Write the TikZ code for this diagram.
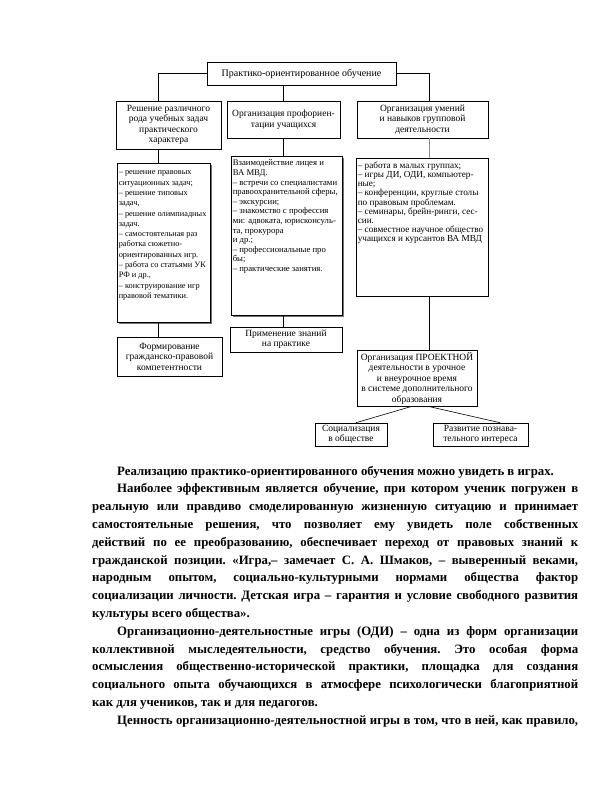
\documentclass[tikz,border=0pt]{standalone}
\usepackage{fontspec}
\setmainfont{Liberation Serif}
\usepackage{tikz}
\usetikzlibrary{shadows}

\begin{document}
\begin{tikzpicture}[x=1pt, y=-1pt,
    box/.style={draw, fill=white, line width=0.6pt, inner sep=1pt, align=center,
        font=\fontsize{9.5}{10.5}\selectfont},
    listbox/.style={draw, fill=white, line width=0.6pt, inner sep=1.5pt, anchor=north west},
    boxshadow/.style={drop shadow={shadow xshift=1.2pt, shadow yshift=-1.2pt, fill=black!55, opacity=1}},
    link/.style={line width=0.6pt}]
    \useasboundingbox (0,0) rectangle (612,792);
    \fill[white] (0,0) rectangle (612,792);
    % Top of the scheme
    \node[box, boxshadow, minimum width=189pt, minimum height=23pt,
        font=\fontsize{10}{11}\selectfont] (top) at (301.5,73.5)
        {Практико-ориентированное обучение};
    % Three directions
    \node[box, minimum width=105pt, minimum height=48pt] (solve) at (168.5,125)
        {Решение различного\\рода учебных задач\\практического\\характера};
    \node[box, minimum width=113pt, minimum height=37pt] (prof) at (283.5,119.5)
        {Организация профориен-\\тации учащихся};
    \node[box, minimum width=131pt, minimum height=37pt] (skill) at (422.5,119.5)
        {Организация умений\\и навыков групповой\\деятельности};
    % Lists of forms of work
    \node[listbox, boxshadow] (solvelist) at (117,163)
        {\parbox[t][156pt][t]{90pt}{\raggedright\fontsize{8.3}{10.3}\selectfont
        \rule{0pt}{10pt}– решение правовых\\ситуационных задач;\\– решение типовых\\задач,\\
        – решение олимпиадных\\задач.\\– самостоятельная раз\\работка сюжетно-\\
        ориентированных игр.\\– работа со статьями УК\\РФ и др.,\\
        – конструирование игр\\правовой тематики.}};
    \node[listbox, boxshadow] (proflist) at (231,156)
        {\parbox[t][156pt][t]{108pt}{\raggedright\fontsize{8.7}{9.6}\selectfont
        \rule{0pt}{8pt}Взаимодействие лицея и\\ВА МВД.\\– встречи со специалистами\\
        правоохранительной сферы,\\– экскурсии;\\– знакомство с профессия\\
        ми: адвоката, юрисконсуль-\\та, прокурора\\и др.;\\
        – профессиональные про\\бы;\\– практические занятия.}};
    \node[listbox] (skilllist) at (356,158)
        {\parbox[t][135pt][t]{129pt}{\raggedright\fontsize{9.2}{9.2}\selectfont
        \rule{0pt}{8.5pt}– работа в малых группах;\\– игры ДИ, ОДИ, компьютер-\\ные;\\
        – конференции, круглые столы\\по правовым проблемам.\\
        – семинары, брейн-ринги, сес-\\сии.\\– совместное научное общество\\
        учащихся и курсантов ВА МВД}};
    % Results
    \node[box, boxshadow, minimum width=105pt, minimum height=39pt] (civic) at (169.5,356.5)
        {Формирование\\гражданско-правовой\\компетентности};
    \node[box, boxshadow, minimum width=112pt, minimum height=25pt] (apply) at (286,339.5)
        {Применение знаний\\на практике};
    \node[box, boxshadow, minimum width=120pt, minimum height=56pt] (project) at (417,378)
        {Организация ПРОЕКТНОЙ\\деятельности в урочное\\и внеурочное время\\
        в системе дополнительного\\образования};
    \node[box, minimum width=72pt, minimum height=23pt] (social) at (351,434.5)
        {Социализация\\в обществе};
    \node[box, minimum width=95pt, minimum height=23pt] (interest) at (480.5,434.5)
        {Развитие познава-\\тельного интереса};
    % Connectors
    \coordinate (lx) at (158,0);
    \coordinate (mx) at (283,0);
    \coordinate (rx) at (429.5,0);
    \draw[link] (top.west) -| (solve.north -| lx);
    \draw[link] (top.east) -| (skill.north -| rx);
    \draw[link] (top.south -| mx) -- (prof.north -| mx);
    \draw[link] (solve.south -| lx) -- (solvelist.north -| lx);
    \draw[link] (solvelist.south -| lx) -- (civic.north -| lx);
    \draw[link] (prof.south -| mx) -- (proflist.north -| mx);
    \draw[link] (proflist.south -| mx) -- (apply.north -| mx);
    \draw[line width=0.4pt, black!45] (skill.south -| rx) -- (skilllist.north -| rx);
    \draw[link] (skilllist.south -| rx) -- (project.north -| rx);
    \draw[link] ([xshift=-5pt]project.south) -- ([xshift=5pt]social.north);
    \draw[link] ([xshift=11pt]project.south) -- ([xshift=19.5pt]interest.north);
    % Text under the scheme
    \node[anchor=base west, text width=486pt, align=justify, inner sep=0pt,
        font=\bfseries\fontsize{12.8}{17.8}\selectfont] (body) at (92,475) {%
        \frenchspacing\tolerance=9999\hyphenpenalty=10000\emergencystretch=20pt
        \hspace*{25pt}Реализацию практико-ориентированного обучения можно увидеть в играх.\par
        \hspace*{25pt}Наиболее эффективным является обучение, при котором ученик погружен в\linebreak
        реальную или правдиво смоделированную жизненную ситуацию и принимает\linebreak
        самостоятельные решения, что позволяет ему увидеть поле собственных\linebreak
        действий по ее преобразованию, обеспечивает переход от правовых знаний к\linebreak
        гражданской позиции. «Игра,– замечает С. А. Шмаков, – выверенный веками,\linebreak
        народным опытом, социально-культурными нормами общества фактор\linebreak
        социализации личности. Детская игра – гарантия и условие свободного развития\linebreak
        культуры всего общества».\par
        \hspace*{25pt}Организационно-деятельностные игры (ОДИ) – одна из форм организации\linebreak
        коллективной мыследеятельности, средство обучения. Это особая форма\linebreak
        осмысления общественно-исторической практики, площадка для создания\linebreak
        социального опыта обучающихся в атмосфере психологически благоприятной\linebreak
        как для учеников, так и для педагогов.\par
        {\parfillskip=0pt\hspace*{25pt}Ценность организационно-деятельностной игры в том, что в ней, как правило,\par}};
\end{tikzpicture}
\end{document}
